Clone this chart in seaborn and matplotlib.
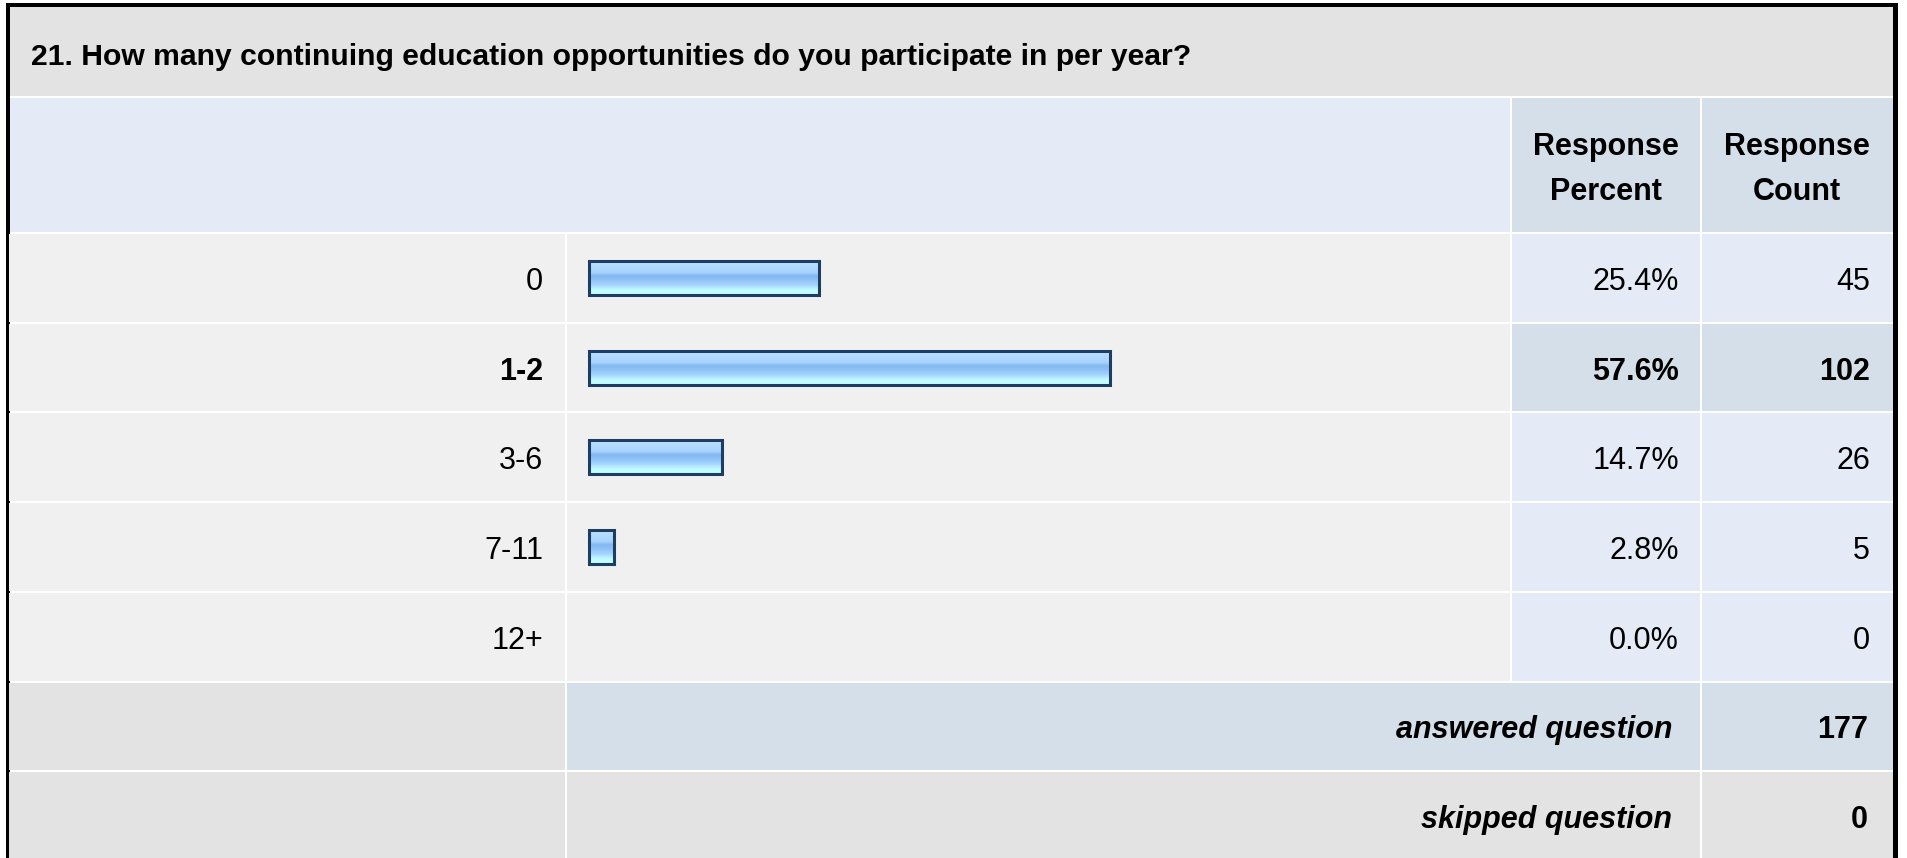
import numpy as np
import pandas as pd
import matplotlib
matplotlib.use('Agg')
import matplotlib.pyplot as plt
from matplotlib.patches import Rectangle
from matplotlib.colors import LinearSegmentedColormap
import seaborn as sns

# survey data
question = "21. How many continuing education opportunities do you participate in per year?"
answer_options = ['0', '1-2', '3-6', '7-11', '12+']
response_percent = [25.4, 57.6, 14.7, 2.8, 0.0]
response_count = [45, 102, 26, 5, 0]
answered_question = 177
skipped_question = 0

W, H, DPI = 1907, 858, 100

GRAY = '#e3e3e3'
ROW_GRAY = '#f0f0f0'
LIGHT_BLUE = '#e4ebf6'
DARK_BLUE = '#d5dfe9'
BAR_EDGE = '#1e3d63'

# column spans in pixels (label, bar, percent, count)
COLS = [(9, 565), (567, 1510), (1512, 1700), (1702, 1893)]
ROW_TOP = 232
ROW_H = 89.7
PX_PER_PCT = 9.05
BAR_ZERO = 589


def row_span(i):
    return ROW_TOP + i * ROW_H + 2, ROW_TOP + (i + 1) * ROW_H


def row_base(i):
    return ROW_TOP + 1 + (i + 0.5) * ROW_H + 12


def create_chart():
    sns.set_theme(style='white')
    plt.rcParams['font.family'] = ['Liberation Sans', 'DejaVu Sans']

    fig = plt.figure(figsize=(W / DPI, H / DPI), dpi=DPI)
    ax = fig.add_axes([0, 0, 1, 1])
    ax.set_xlim(0, W)
    ax.set_ylim(H, 0)
    ax.axis('off')

    def cell(x0, x1, y0, y1, color):
        ax.add_patch(Rectangle((x0, y0), x1 - x0, y1 - y0, facecolor=color, lw=0))

    # outer frame
    cell(6, 1898, 3, H + 10, 'black')
    cell(9.5, 1893, 7, H + 10, 'white')

    # title band and header
    cell(9.5, 1893, 7, 96, GRAY)
    cell(9.5, 1510, 98, ROW_TOP, LIGHT_BLUE)
    cell(1512, 1700, 98, ROW_TOP, DARK_BLUE)
    cell(1702, 1893, 98, ROW_TOP, DARK_BLUE)
    ax.text(31, 65, question, fontsize=21.7, fontweight='bold', ha='left', va='baseline', color='black')
    for x, (l1, l2) in zip([1606, 1797], [('Response', 'Percent'), ('Response', 'Count')]):
        ax.text(x, 155, l1, fontsize=22, fontweight='bold', ha='center', va='baseline', color='black')
        ax.text(x, 200, l2, fontsize=22, fontweight='bold', ha='center', va='baseline', color='black')

    # answer rows
    top = int(np.argmax(response_count))
    for i, (opt, pct, cnt) in enumerate(zip(answer_options, response_percent, response_count)):
        y0, y1 = row_span(i)
        hl = DARK_BLUE if i == top else LIGHT_BLUE
        w = 'bold' if i == top else 'normal'
        cell(COLS[0][0], COLS[0][1], y0, y1, ROW_GRAY)
        cell(COLS[1][0], COLS[1][1], y0, y1, ROW_GRAY)
        cell(COLS[2][0], COLS[2][1], y0, y1, hl)
        cell(COLS[3][0], COLS[3][1], y0, y1, hl)
        b = row_base(i)
        ax.text(543, b, opt, fontsize=22, fontweight=w, ha='right', va='baseline', color='black')
        ax.text(1679, b, f'{pct:.1f}%', fontsize=22, fontweight=w, ha='right', va='baseline', color='black')
        ax.text(1870, b, str(cnt), fontsize=22, fontweight=w, ha='right', va='baseline', color='black')

    # summary rows
    n = len(answer_options)
    y0, y1 = row_span(n)
    cell(COLS[0][0], COLS[0][1], y0, y1, GRAY)
    cell(COLS[1][0], COLS[2][1], y0, y1, DARK_BLUE)
    cell(COLS[3][0], COLS[3][1], y0, y1, DARK_BLUE)
    ax.text(1672, row_base(n), 'answered question', fontsize=22, fontweight='bold', style='italic',
            ha='right', va='baseline', color='black')
    ax.text(1868, row_base(n), str(answered_question), fontsize=22, fontweight='bold',
            ha='right', va='baseline', color='black')
    y0, y1 = row_span(n + 1)
    cell(COLS[0][0], COLS[0][1], y0, y1, GRAY)
    cell(COLS[1][0], COLS[2][1], y0, y1, GRAY)
    cell(COLS[3][0], COLS[3][1], y0, y1, GRAY)
    ax.text(1672, row_base(n + 1), 'skipped question', fontsize=22, fontweight='bold', style='italic',
            ha='right', va='baseline', color='black')
    ax.text(1868, row_base(n + 1), str(skipped_question), fontsize=22, fontweight='bold',
            ha='right', va='baseline', color='black')

    # bars in their own axes over the bar column
    y_top = ROW_TOP + 1
    y_bot = y_top + n * ROW_H
    bx0, bx1 = COLS[1]
    bar_ax = fig.add_axes([bx0 / W, 1 - y_bot / H, (bx1 - bx0) / W, (y_bot - y_top) / H])
    df = pd.DataFrame({'option': answer_options, 'percent': response_percent})
    sns.barplot(data=df, x='percent', y='option', orient='h', ax=bar_ax, width=0.38,
                color='#9ccaf8', edgecolor=BAR_EDGE, linewidth=2.2)

    grad_cmap = LinearSegmentedColormap.from_list('bar', [
        (0.0, '#dceeff'), (0.12, '#b6dcff'), (0.35, '#a8d3ff'), (0.45, '#82b8f2'),
        (0.58, '#8fc3f7'), (0.72, '#a9d6ff'), (0.86, '#c0fbff'), (1.0, '#c6ffff')])
    grad = np.linspace(0, 1, 64).reshape(-1, 1)
    for patch in bar_ax.patches:
        x0, yb = patch.get_x(), patch.get_y()
        w, h = patch.get_width(), patch.get_height()
        if w <= 0:
            patch.set_visible(False)
            continue
        im = bar_ax.imshow(grad, cmap=grad_cmap, aspect='auto', origin='upper',
                           extent=(x0, x0 + w, yb + h, yb), zorder=1, interpolation='bilinear')
        im.set_clip_path(patch)
        patch.set_facecolor('none')
        patch.set_zorder(2)

    bar_ax.set_xlim((bx0 - BAR_ZERO) / PX_PER_PCT, (bx1 - BAR_ZERO) / PX_PER_PCT)
    bar_ax.set_ylim(n - 0.5, -0.5)
    bar_ax.axis('off')
    bar_ax.patch.set_alpha(0)

    fig.savefig('out.png', dpi=DPI)
    plt.close(fig)


if __name__ == "__main__":
    create_chart()
